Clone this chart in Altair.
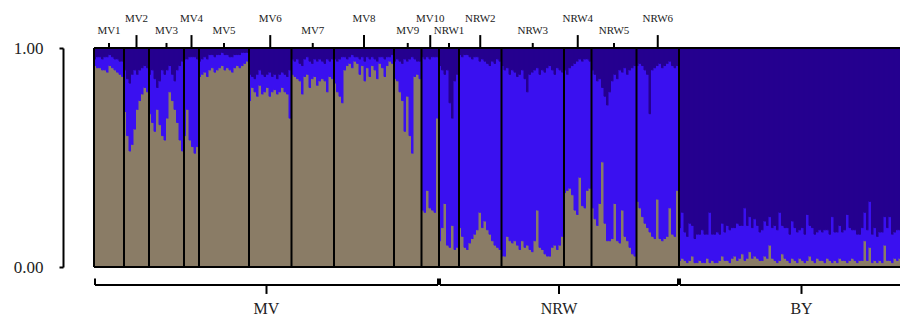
import altair as alt
import pandas as pd

# ---------------- data ----------------
POP_NAMES = ["MV1", "MV2", "MV3", "MV4", "MV5", "MV6", "MV7", "MV8", "MV9", "MV10",
             "NRW1", "NRW2", "NRW3", "NRW4", "NRW5", "NRW6"]
POP_GROUP = ["MV"] * 10 + ["NRW"] * 6
GROUP_NAMES = ["MV", "NRW", "BY"]

# membership in the tan cluster (bottom), per individual, per population
TAN = [
    [0.92, 0.91, 0.91, 0.90, 0.90, 0.89, 0.92, 0.91, 0.90, 0.89, 0.88, 0.87],
    [0.71, 0.60, 0.53, 0.56, 0.63, 0.72, 0.76, 0.79, 0.82, 0.80],
    [0.70, 0.66, 0.62, 0.72, 0.65, 0.60, 0.58, 0.68, 0.80, 0.76, 0.72, 0.66, 0.58, 0.53],
    [0.60, 0.72, 0.58, 0.55, 0.52, 0.55],
    [0.87, 0.88, 0.89, 0.87, 0.90, 0.91, 0.89, 0.90, 0.91, 0.92,
     0.90, 0.91, 0.90, 0.89, 0.91, 0.92, 0.91, 0.92, 0.93, 0.94],
    [0.76, 0.82, 0.80, 0.78, 0.83, 0.79, 0.80, 0.82, 0.78, 0.80,
     0.81, 0.79, 0.80, 0.82, 0.80, 0.79, 0.68],
    [0.88, 0.87, 0.86, 0.85, 0.79, 0.87, 0.88, 0.82, 0.86, 0.87,
     0.83, 0.85, 0.86, 0.85, 0.80, 0.87, 0.86],
    [0.84, 0.80, 0.78, 0.75, 0.90, 0.92, 0.93, 0.91, 0.94, 0.93,
     0.88, 0.92, 0.85, 0.91, 0.87, 0.92, 0.90, 0.86, 0.93, 0.91,
     0.87, 0.92, 0.94, 0.93],
    [0.86, 0.85, 0.80, 0.76, 0.62, 0.78, 0.60, 0.52, 0.87, 0.88, 0.86],
    [0.26, 0.25, 0.35, 0.27, 0.26, 0.25, 0.68],
    [0.12, 0.18, 0.29, 0.10, 0.09, 0.19, 0.08, 0.09],
    [0.18, 0.14, 0.09, 0.08, 0.11, 0.13, 0.15, 0.17, 0.25, 0.18,
     0.21, 0.17, 0.15, 0.12, 0.10, 0.09, 0.08],
    [0.05, 0.05, 0.14, 0.12, 0.11, 0.12, 0.10, 0.08, 0.12, 0.09,
     0.10, 0.08, 0.07, 0.12, 0.26, 0.09, 0.08, 0.06, 0.05, 0.05,
     0.09, 0.10, 0.08, 0.10, 0.14],
    [0.34, 0.35, 0.36, 0.33, 0.26, 0.24, 0.41, 0.28, 0.27, 0.35, 0.36],
    [0.27, 0.22, 0.19, 0.29, 0.48, 0.20, 0.12, 0.12, 0.13, 0.29,
     0.12, 0.11, 0.26, 0.14, 0.12, 0.09, 0.06, 0.05],
    [0.30, 0.27, 0.23, 0.20, 0.18, 0.16, 0.14, 0.13, 0.31, 0.13,
     0.12, 0.13, 0.14, 0.27, 0.15, 0.14, 0.35],
]

# membership in the dark navy cluster (top)
NAVY = [
    [0.05, 0.04, 0.04, 0.05, 0.04, 0.04, 0.03, 0.04, 0.05, 0.05, 0.06, 0.06],
    [0.10, 0.14, 0.16, 0.12, 0.10, 0.12, 0.10, 0.09, 0.08, 0.09],
    [0.12, 0.10, 0.14, 0.18, 0.15, 0.10, 0.12, 0.10, 0.08, 0.12, 0.15, 0.10, 0.08, 0.06],
    [0.05, 0.05, 0.04, 0.04, 0.04, 0.05],
    [0.06, 0.05, 0.04, 0.05, 0.03, 0.03, 0.04, 0.03, 0.03, 0.02,
     0.03, 0.03, 0.04, 0.04, 0.03, 0.03, 0.03, 0.02, 0.02, 0.02],
    [0.12, 0.13, 0.14, 0.12, 0.10, 0.12, 0.13, 0.12, 0.11, 0.13,
     0.12, 0.14, 0.12, 0.11, 0.12, 0.13, 0.10],
    [0.05, 0.06, 0.05, 0.07, 0.08, 0.05, 0.04, 0.06, 0.07, 0.05,
     0.06, 0.05, 0.06, 0.07, 0.05, 0.06, 0.05],
    [0.05, 0.06, 0.05, 0.04, 0.04, 0.05, 0.04, 0.03, 0.04, 0.04,
     0.05, 0.04, 0.06, 0.04, 0.05, 0.04, 0.05, 0.06, 0.04, 0.04,
     0.05, 0.04, 0.04, 0.03],
    [0.06, 0.05, 0.06, 0.07, 0.05, 0.06, 0.05, 0.04, 0.05, 0.06, 0.06],
    [0.04, 0.05, 0.04, 0.05, 0.04, 0.04, 0.04],
    [0.08, 0.10, 0.12, 0.10, 0.25, 0.32, 0.15, 0.12],
    [0.03, 0.04, 0.03, 0.03, 0.04, 0.05, 0.04, 0.04, 0.06, 0.05,
     0.06, 0.07, 0.08, 0.06, 0.07, 0.05, 0.06],
    [0.08, 0.10, 0.09, 0.12, 0.10, 0.11, 0.13, 0.12, 0.10, 0.14,
     0.20, 0.12, 0.11, 0.10, 0.09, 0.12, 0.10, 0.11, 0.09, 0.08,
     0.10, 0.12, 0.09, 0.10, 0.11],
    [0.10, 0.12, 0.09, 0.08, 0.07, 0.06, 0.05, 0.06, 0.05, 0.05, 0.06],
    [0.10, 0.12, 0.15, 0.14, 0.18, 0.22, 0.26, 0.20, 0.15, 0.12,
     0.14, 0.10, 0.11, 0.09, 0.12, 0.10, 0.09, 0.08],
    [0.08, 0.07, 0.08, 0.10, 0.12, 0.30, 0.10, 0.09, 0.08, 0.07,
     0.09, 0.08, 0.07, 0.06, 0.08, 0.09, 0.08],
]

# BY individuals: tan and bright-blue memberships (rest is navy)
BY_TAN = [0.03, 0.04, 0.03, 0.02, 0.03, 0.05, 0.02, 0.02, 0.03, 0.02,
          0.02, 0.04, 0.02, 0.03, 0.02, 0.02, 0.03, 0.05, 0.03, 0.03,
          0.02, 0.04, 0.05, 0.03, 0.04, 0.06, 0.03, 0.04, 0.07, 0.04,
          0.05, 0.04, 0.03, 0.03, 0.05, 0.04, 0.10, 0.04, 0.03, 0.02,
          0.03, 0.06, 0.04, 0.03, 0.02, 0.04, 0.03, 0.02, 0.04, 0.03,
          0.02, 0.03, 0.05, 0.03, 0.02, 0.04, 0.03, 0.03, 0.02, 0.04,
          0.03, 0.02, 0.03, 0.02, 0.04, 0.03, 0.03, 0.02, 0.03, 0.04,
          0.03, 0.02, 0.03, 0.03, 0.12, 0.03, 0.09, 0.02, 0.03, 0.02,
          0.03, 0.02, 0.10, 0.03, 0.03, 0.02, 0.04, 0.03, 0.04, 0.03,
          0.02, 0.03, 0.02, 0.03, 0.03, 0.02, 0.03, 0.02]
BY_BLUE = [0.15, 0.21, 0.13, 0.12, 0.17, 0.14, 0.11, 0.13, 0.12, 0.15,
           0.13, 0.11, 0.23, 0.12, 0.13, 0.14, 0.12, 0.15, 0.13, 0.16,
           0.15, 0.14, 0.13, 0.17, 0.15, 0.13, 0.24, 0.15, 0.16, 0.14,
           0.17, 0.15, 0.13, 0.14, 0.16, 0.15, 0.13, 0.14, 0.16, 0.15,
           0.22, 0.13, 0.14, 0.15, 0.13, 0.17, 0.15, 0.14, 0.13, 0.15,
           0.13, 0.21, 0.14, 0.15, 0.13, 0.12, 0.14, 0.13, 0.15, 0.13,
           0.12, 0.21, 0.13, 0.14, 0.15, 0.13, 0.14, 0.22, 0.15, 0.13,
           0.14, 0.13, 0.12, 0.15, 0.13, 0.14, 0.21, 0.13, 0.15, 0.12,
           0.13, 0.14, 0.13, 0.15, 0.20, 0.13, 0.12, 0.14, 0.13, 0.15,
           0.13, 0.23, 0.14, 0.15, 0.13, 0.14, 0.13, 0.15]

CLUSTERS = ["tan", "blue", "navy"]
CLUSTER_COLORS = ["#8a7c66", "#3a10f0", "#25008f"]
X_VISIBLE = 322.4   # individuals shown across the plot width (image is cropped in BY)

# ---------------- build tables ----------------
rows = []
pops = []
i = 0
for name, grp, tans, navys in zip(POP_NAMES, POP_GROUP, TAN, NAVY):
    start = i
    for t, n in zip(tans, navys):
        b = 1 - t - n
        rows.append(dict(x=i, x2=i + 1, y=0, y2=t, k="tan"))
        rows.append(dict(x=i, x2=i + 1, y=t, y2=t + b, k="blue"))
        rows.append(dict(x=i, x2=i + 1, y=t + b, y2=1, k="navy"))
        i += 1
    pops.append(dict(name=name, group=grp, start=start, end=i))
start = i
for t, b in zip(BY_TAN, BY_BLUE):
    rows.append(dict(x=i, x2=i + 1, y=0, y2=t, k="tan"))
    rows.append(dict(x=i, x2=i + 1, y=t, y2=t + b, k="blue"))
    rows.append(dict(x=i, x2=i + 1, y=t + b, y2=1, k="navy"))
    i += 1
BY_START, BY_END = start, i
bars = pd.DataFrame(rows)

# layout constants (in units of the y scale: 0..1 is the plot)
SHORT_TICK, LONG_TICK = 1.023, 1.059
SHORT_LAB, LONG_LAB = 1.078, 1.132
BR_Y, BR_END, BR_TICK, BR_LAB = -0.082, -0.052, -0.123, -0.192

# population separators
seps = pd.DataFrame([dict(x=p["start"], y=0, y2=1) for p in pops] + [dict(x=BY_START, y=0, y2=1)])
frame = pd.DataFrame([dict(x=0, x2=X_VISIBLE, y=0), dict(x=0, x2=X_VISIBLE, y=1)])

# top ticks + labels
tick_rows, lab_rows = [], []
for j, p in enumerate(pops):
    c = (p["start"] + p["end"]) / 2
    long_ = j % 2 == 1
    tick_rows.append(dict(x=c, y=1, y2=LONG_TICK if long_ else SHORT_TICK))
    lab_rows.append(dict(x=c, y=LONG_LAB if long_ else SHORT_LAB, t=p["name"]))
top_ticks = pd.DataFrame(tick_rows)
top_labs = pd.DataFrame(lab_rows)

# group brackets
gb = []
for g in GROUP_NAMES:
    if g == "BY":
        s, e = BY_START, BY_END
    else:
        mem = [p for p in pops if p["group"] == g]
        s, e = mem[0]["start"], mem[-1]["end"]
    gb.append(dict(g=g, s=s, e=e, c=(s + e) / 2))
h_rows, v_rows, g_labs = [], [], []
for b in gb:
    s = b["s"] + 0.4
    e = min(b["e"] - 0.4, X_VISIBLE)
    h_rows.append(dict(x=s, x2=e, y=BR_Y))
    v_rows.append(dict(x=s, y=BR_Y, y2=BR_END))
    if b["e"] - 0.4 <= X_VISIBLE:
        v_rows.append(dict(x=e, y=BR_Y, y2=BR_END))
    v_rows.append(dict(x=b["c"], y=BR_Y, y2=BR_TICK))
    g_labs.append(dict(x=b["c"], y=BR_LAB, t=b["g"]))
br_h = pd.DataFrame(h_rows)
br_v = pd.DataFrame(v_rows)
grp_labs = pd.DataFrame(g_labs)

# ---------------- chart ----------------
xsc = alt.Scale(domain=[0, X_VISIBLE], nice=False, zero=False)
ysc = alt.Scale(domain=[0, 1], nice=False, zero=False)
yax = alt.Axis(values=[0, 1], format=".2f", offset=31, title=None, grid=False,
               domainColor="black", domainWidth=2, tickColor="black", tickWidth=2,
               tickSize=4, labelPadding=16, labelFont="Liberation Serif",
               labelFontSize=17, labelColor="#222")


def X(f="x"):
    return alt.X(f"{f}:Q", scale=xsc, axis=None)


def Y(f="y"):
    return alt.Y(f"{f}:Q", scale=ysc, axis=yax, title=None)


cscale = alt.Scale(domain=CLUSTERS, range=CLUSTER_COLORS)

bar_layer = alt.Chart(bars).mark_rect(clip=True, strokeWidth=1).encode(
    x=X(), x2="x2:Q", y=Y(), y2="y2:Q",
    color=alt.Color("k:N", scale=cscale, legend=None),
    stroke=alt.Stroke("k:N", scale=cscale, legend=None),
)

sep_layer = alt.Chart(seps).mark_rule(color="black", strokeWidth=2).encode(
    x=X(), y=Y(), y2="y2:Q")
frame_layer = alt.Chart(frame).mark_rule(color="black", strokeWidth=2).encode(
    x=X(), x2="x2:Q", y=Y())
tick_layer = alt.Chart(top_ticks).mark_rule(color="black", strokeWidth=2).encode(
    x=X(), y=Y(), y2="y2:Q")
toplab_layer = alt.Chart(top_labs).mark_text(
    font="Liberation Serif", fontSize=11, color="#222", baseline="middle", align="center"
).encode(x=X(), y=Y(), text="t:N")
brh_layer = alt.Chart(br_h).mark_rule(color="black", strokeWidth=2).encode(
    x=X(), x2="x2:Q", y=Y())
brv_layer = alt.Chart(br_v).mark_rule(color="black", strokeWidth=2).encode(
    x=X(), y=Y(), y2="y2:Q")
grplab_layer = alt.Chart(grp_labs).mark_text(
    font="Liberation Serif", fontSize=16, color="#222", baseline="middle", align="center"
).encode(x=X(), y=Y(), text="t:N")

chart = alt.layer(
    bar_layer, sep_layer, frame_layer, tick_layer, toplab_layer,
    brh_layer, brv_layer, grplab_layer
).properties(
    width=806, height=219,
    autosize=alt.AutoSizeParams(type="none"),
    padding={"left": 86, "top": 40, "right": 0, "bottom": 53},
    background="white",
).configure_view(stroke=None)

chart.save("out.html", embed_options={"renderer": "svg", "actions": False})
